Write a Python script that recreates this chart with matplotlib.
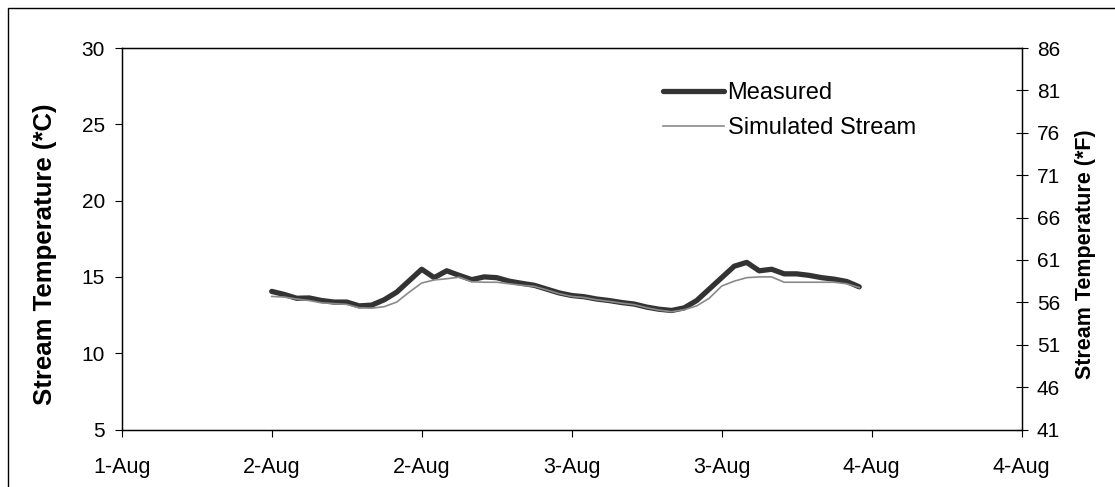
# -*- coding: utf-8 -*-
import numpy as np
import matplotlib
matplotlib.use('Agg')
import matplotlib.pyplot as plt
from matplotlib.patches import Rectangle

# ---------- data (hourly, from 2-Aug 00:00) ----------
hours = list(range(48))
measured = [14.05, 13.85, 13.6, 13.62, 13.45, 13.35, 13.35, 13.1, 13.15, 13.5,
            14.0, 14.75, 15.5, 14.95, 15.4, 15.1, 14.82, 15.0, 14.95, 14.72,
            14.58, 14.45, 14.2, 13.95, 13.78, 13.7, 13.55, 13.45, 13.32, 13.22,
            13.02, 12.88, 12.8, 12.97, 13.45, 14.2, 14.95, 15.7, 15.95, 15.4,
            15.5, 15.2, 15.2, 15.1, 14.95, 14.85, 14.7, 14.35]
simulated = [13.72, 13.68, 13.55, 13.45, 13.3, 13.25, 13.2, 12.98, 12.95, 13.05,
             13.35, 14.0, 14.6, 14.8, 14.88, 14.98, 14.68, 14.65, 14.65, 14.55,
             14.45, 14.38, 14.15, 13.9, 13.72, 13.65, 13.5, 13.4, 13.28, 13.18,
             12.98, 12.82, 12.72, 12.85, 13.1, 13.6, 14.4, 14.72, 14.95, 15.0,
             15.0, 14.65, 14.65, 14.65, 14.65, 14.65, 14.55, 14.3]
tick_hours = [-12, 0, 12, 24, 36, 48, 60]
tick_labels = ['1-Aug', '2-Aug', '2-Aug', '3-Aug', '3-Aug', '4-Aug', '4-Aug']
c_ticks = [5, 10, 15, 20, 25, 30]
f_ticks = [41, 46, 51, 56, 61, 66, 71, 76, 81, 86]

plt.rcParams['font.family'] = ['Liberation Sans', 'DejaVu Sans']

W, H = 1115, 487
fig = plt.figure(figsize=(W / 100, H / 100), dpi=100)
# outer chart border (left and top visible)
fig.patches.append(Rectangle((7.5 / W, -0.1), 1.2, 1 - 7.5 / H + 0.1,
                             transform=fig.transFigure, fill=False,
                             edgecolor='black', linewidth=1.0))

left, right, top, bottom = 121.7, 1021.7, 48, 429.5
ax = fig.add_axes([left / W, 1 - bottom / H, (right - left) / W, (bottom - top) / H])

ax.plot(hours, measured, color='#333333', lw=3.8, solid_capstyle='round',
        solid_joinstyle='round', label='Measured', zorder=2)
ax.plot(hours, simulated, color='#8a8a8a', lw=1.2, label='Simulated Stream', zorder=3)

ax.set_xlim(-12, 60)
ax.set_ylim(5, 30)
ax.set_xticks(tick_hours)
ax.set_xticklabels(tick_labels)
ax.set_yticks(c_ticks)
ax.tick_params(axis='x', direction='out', length=5, width=0.8, labelsize=15.5, pad=15)
ax.tick_params(axis='y', direction='out', length=5, width=0.8, labelsize=15, pad=7)
for s in ax.spines.values():
    s.set_linewidth(1.0)
ax.set_ylabel('Stream Temperature (*C)', fontsize=18.5, fontweight='bold')
ax.yaxis.set_label_coords(-0.072, 0.46)

ax2 = ax.twinx()
ax2.set_ylim(41, 86)
ax2.set_yticks(f_ticks)
ax2.tick_params(axis='y', direction='inout', length=8, width=0.8, labelsize=15, pad=7)
ax2.set_ylabel('Stream Temperature (*F)', fontsize=15.5, fontweight='bold')
ax2.yaxis.set_label_coords(1.059, 0.46)

leg = ax.legend(loc='upper left', bbox_to_anchor=(0.601, 0.91), frameon=False,
                fontsize=17, handlelength=2.6, handletextpad=0.15,
                labelspacing=0.55, borderpad=0, borderaxespad=0)

fig.savefig('out.png', dpi=100)
